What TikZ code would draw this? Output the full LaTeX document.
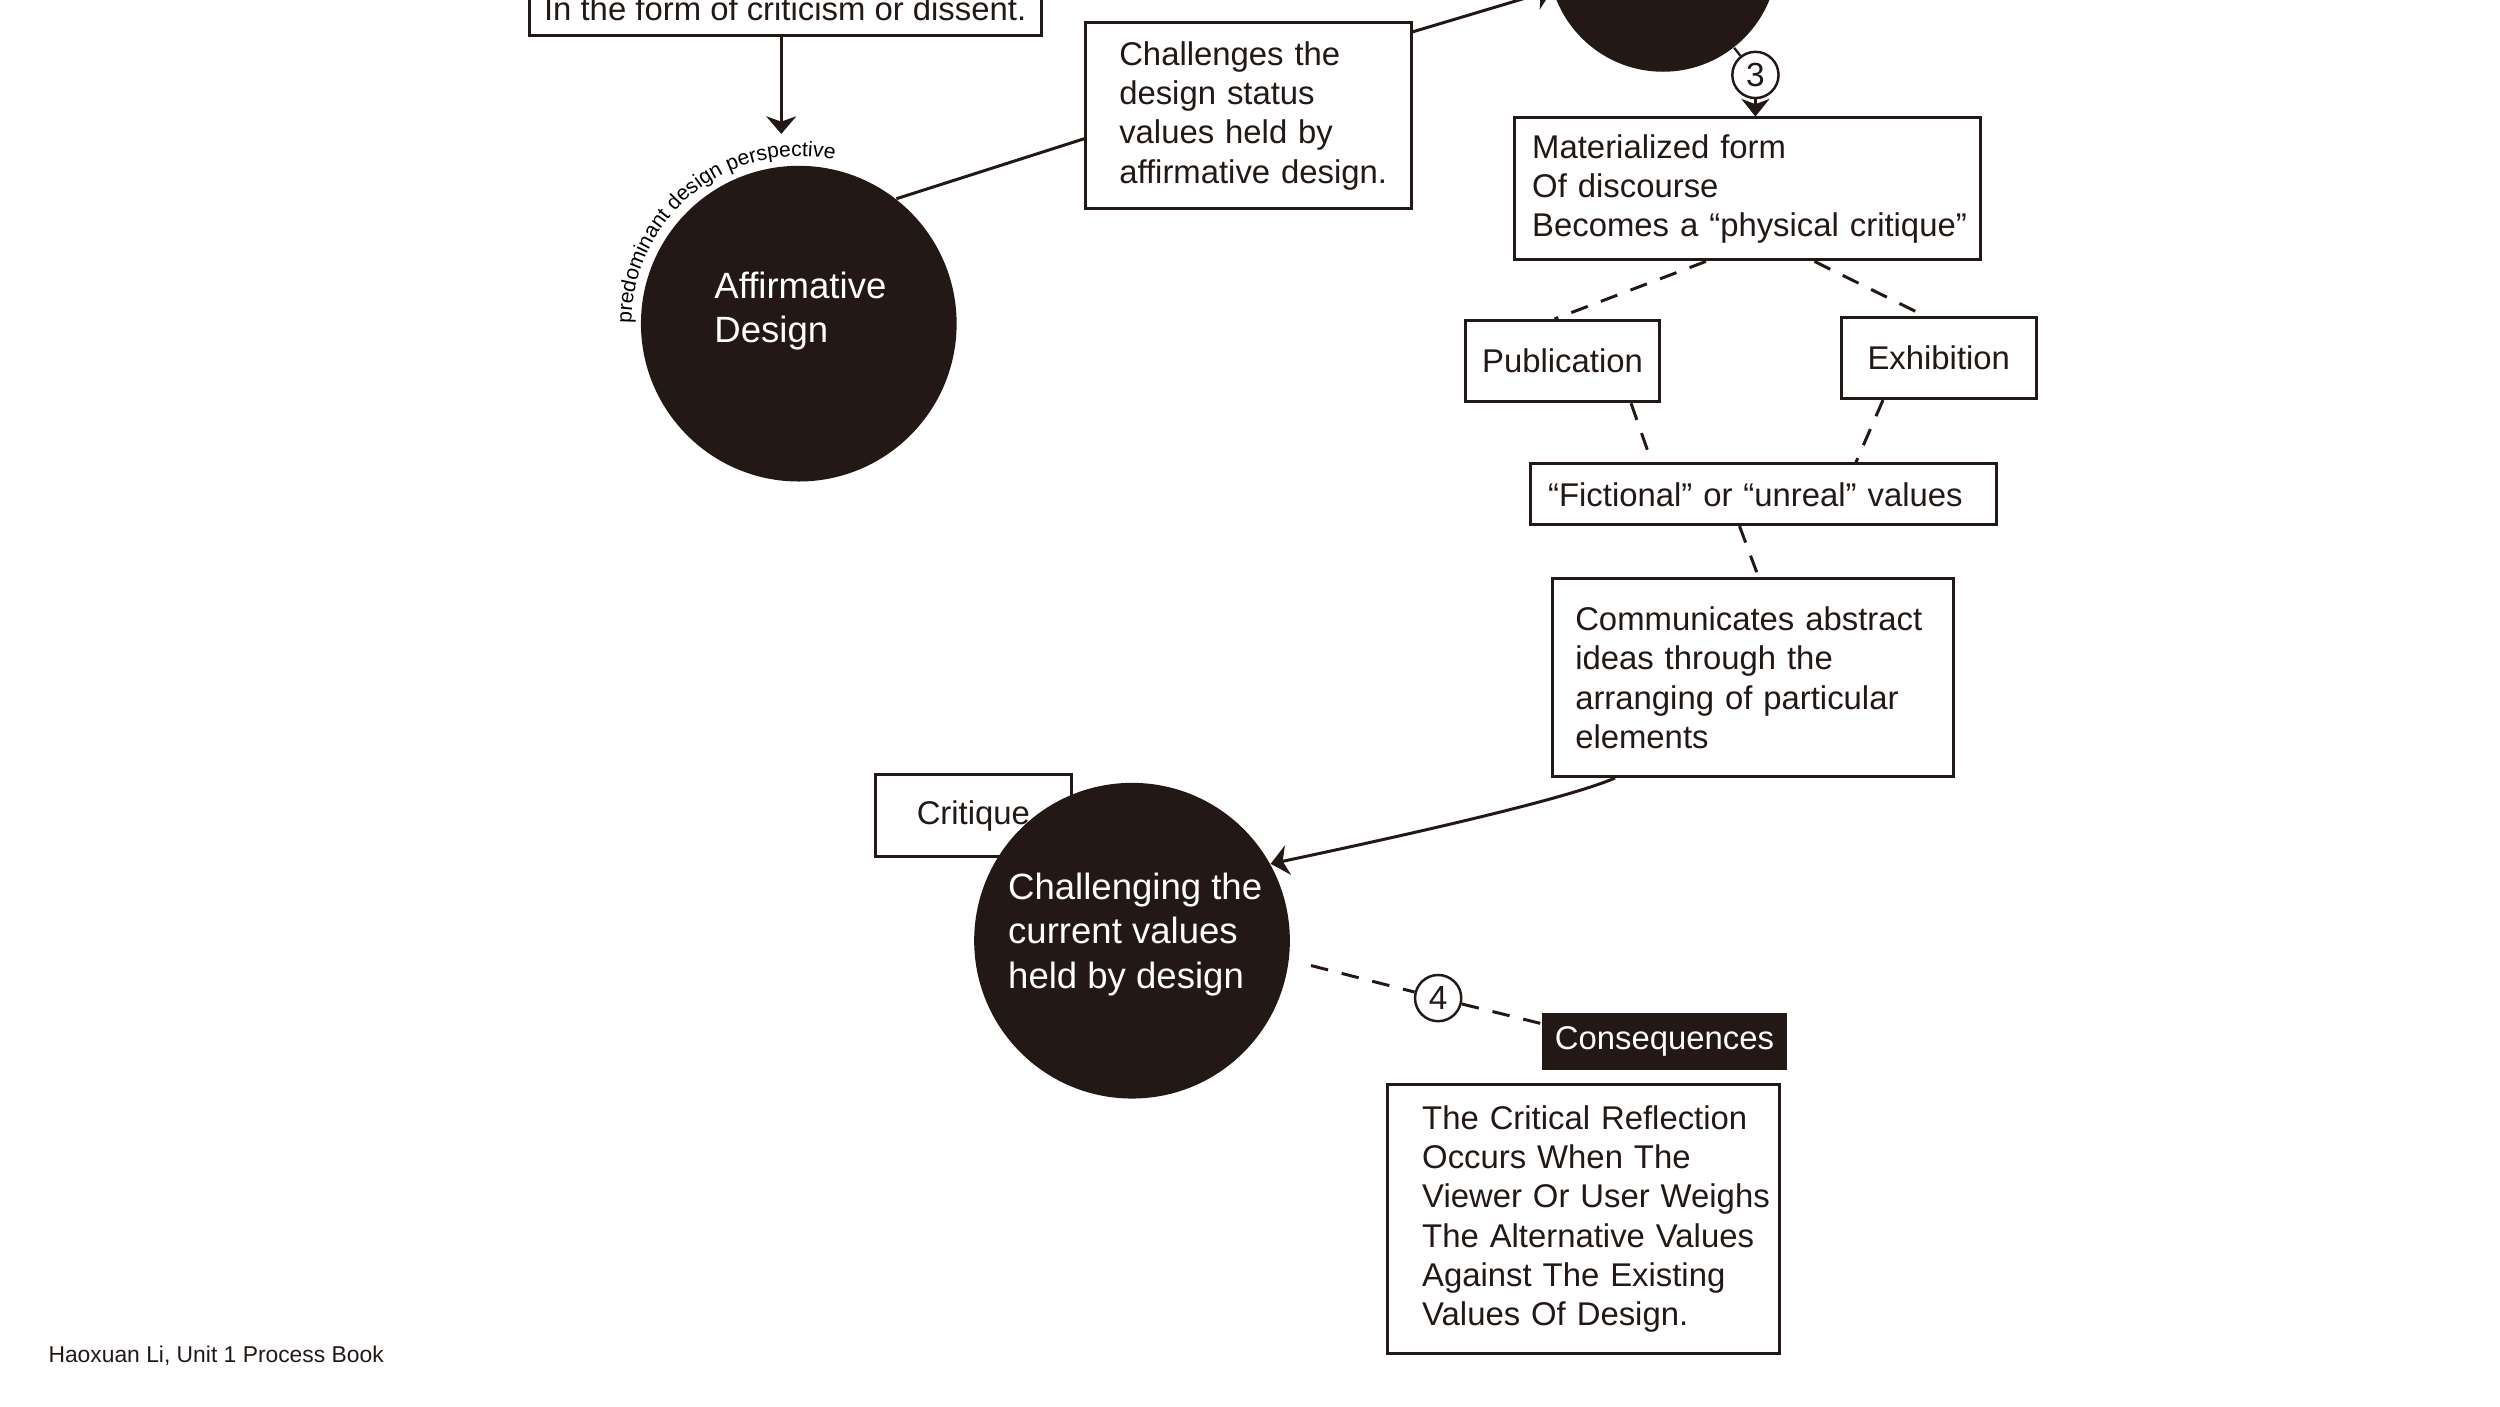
\documentclass[tikz,border=0pt]{standalone}
\usepackage{fontspec}
\setmainfont{Liberation Sans}
\usetikzlibrary{arrows.meta,decorations.text}
\newlength\pxu
\setlength\pxu{0.015944cm}
\definecolor{ink}{HTML}{231815}
\begin{document}
\begin{tikzpicture}[x=0.015944cm, y=-0.015944cm,
  box/.style={draw=ink, line width=0.85pt, fill=white, text=ink, inner ysep=0pt, font=\fontsize{9.35}{11.2}\selectfont},
  lbox/.style={box, align=left},
  disc/.style={circle, fill=ink, draw=none, inner sep=0pt},
  disctext/.style={text=white, font=\fontsize{10.4}{12.7}\selectfont, align=left, inner sep=0pt},
  badge/.style={circle, draw=ink, line width=0.7pt, fill=white, text=ink, inner sep=0pt, minimum size=29\pxu, font=\fontsize{9.5}{10}\selectfont},
  conn/.style={draw=ink, line width=0.85pt},
  arr/.style={conn, -{Stealth[length=5pt,width=8.5pt,inset=1.5pt]}},
  thinconn/.style={draw=ink, line width=0.65pt},
  thinarr/.style={thinconn, -{Stealth[length=5pt,width=8pt,inset=1.5pt]}},
  dsh/.style={conn, dash pattern=on 5pt off 4pt},
]
\path[use as bounding box, fill=white] (0,0) rectangle (1568,882);
\clip (0,0) rectangle (1568,882);

% boxes
\node[box, anchor=south west, minimum width=321\pxu, inner xsep=0pt, text height=80\pxu, text depth=9\pxu] (crit) at (331,23) {In the form of criticism or dissent.};
\node[lbox, minimum height=117\pxu, inner xsep=21\pxu, text width=162\pxu] (chal) at (783,72.5) {\mbox{Challenges the}\\\mbox{design status}\\\mbox{values held by}\\\mbox{affirmative design.}};
\node[lbox, minimum height=89\pxu, inner xsep=11\pxu, text width=270\pxu] (mat) at (1096,118.5) {\mbox{Materialized form}\\\mbox{Of discourse}\\\mbox{Becomes a “physical critique”}};
\node[box, minimum width=122\pxu, minimum height=51\pxu] (pub) at (980,226.5) {Publication};
\node[box, minimum width=122\pxu, minimum height=51\pxu] (exh) at (1216,224.5) {Exhibition};
\node[lbox, minimum height=38\pxu, inner xsep=11\pxu, text width=270\pxu] (fic) at (1106,310) {\mbox{“Fictional” or “unreal” values}};
\node[lbox, minimum height=124\pxu, inner xsep=14\pxu, text width=223\pxu] (comm) at (1099.5,425) {\mbox{Communicates abstract}\\\mbox{ideas through the}\\\mbox{arranging of particular}\\\mbox{elements}};
\node[box, minimum width=123\pxu, minimum height=51\pxu] (critq) at (610.5,511.5) {Critique};
\node[box, fill=ink, text=white, minimum width=152\pxu, minimum height=34\pxu] (cons) at (1044,653) {Consequences};
\node[lbox, minimum height=169\pxu, inner xsep=22\pxu, text width=202\pxu] (refl) at (993,764.5) {\mbox{The Critical Reflection}\\\mbox{Occurs When The}\\\mbox{Viewer Or User Weighs}\\\mbox{The Alternative Values}\\\mbox{Against The Existing}\\\mbox{Values Of Design.}};

% circles
\node[disc, minimum size=198\pxu] (aff) at (501,203) {};
\node[disctext] (affL) at (502,195) {Affirmative\\Design};
\node[disc, minimum size=198\pxu] (chc) at (710,590) {};
\node[disctext] (chcL) at (712,586) {Challenging the\\current values\\held by design};
\node[disc, minimum size=144\pxu] (topc) at (1043,-27) {};
\node[badge] (b3) at (1101,47) {3};
\node[badge] (b4) at (902,626) {4};

% curved label
\path[decorate, decoration={text along path, text align=left,
  text={|\fontsize{6}{7}\selectfont|predominant design perspective}}]
  (aff.center) ++(180:105) arc[start angle=180, end angle=292, radius=105];

% footer
\node[anchor=west, inner sep=0pt, font=\fontsize{6.5}{8}\selectfont, text=ink] (foot) at (30,850) {Haoxuan Li, Unit 1 Process Book};

% helper coordinates
\coordinate (pdp) at (490,84);
\coordinate (k1) at (0,87);
\coordinate (k2) at (0,20);

% connectors
\draw[arr] (crit.south -| pdp) -- (pdp);
\draw[conn] (aff.52) -- (chal.west |- k1);
\draw[arr] (chal.east |- k2) -- (topc);
\draw[thinconn] (topc) -- (b3);
\draw[thinarr] (b3) -- (mat.north -| b3);
\draw[dsh] ([xshift=-26\pxu]mat.south) -- ([xshift=-5\pxu]pub.north);
\draw[dsh] ([xshift=42\pxu]mat.south) -- ([xshift=-9\pxu]exh.north);
\draw[dsh] ([xshift=43\pxu]pub.south) -- ([xshift=-70\pxu]fic.north);
\draw[dsh] ([xshift=-35\pxu]exh.south) -- ([xshift=58\pxu]fic.north);
\draw[dsh] ([xshift=-15\pxu]fic.south) -- ([xshift=3.5\pxu]comm.north);
\draw[arr] ([xshift=-86.5\pxu]comm.south) .. controls (985,500) and (900,520) .. (chc.29);
\draw[dsh, shorten <=14\pxu] (chc.-7) -- (b4);
\draw[dsh] (b4) -- ([yshift=-7\pxu]cons.north west);
\end{tikzpicture}
\end{document}
